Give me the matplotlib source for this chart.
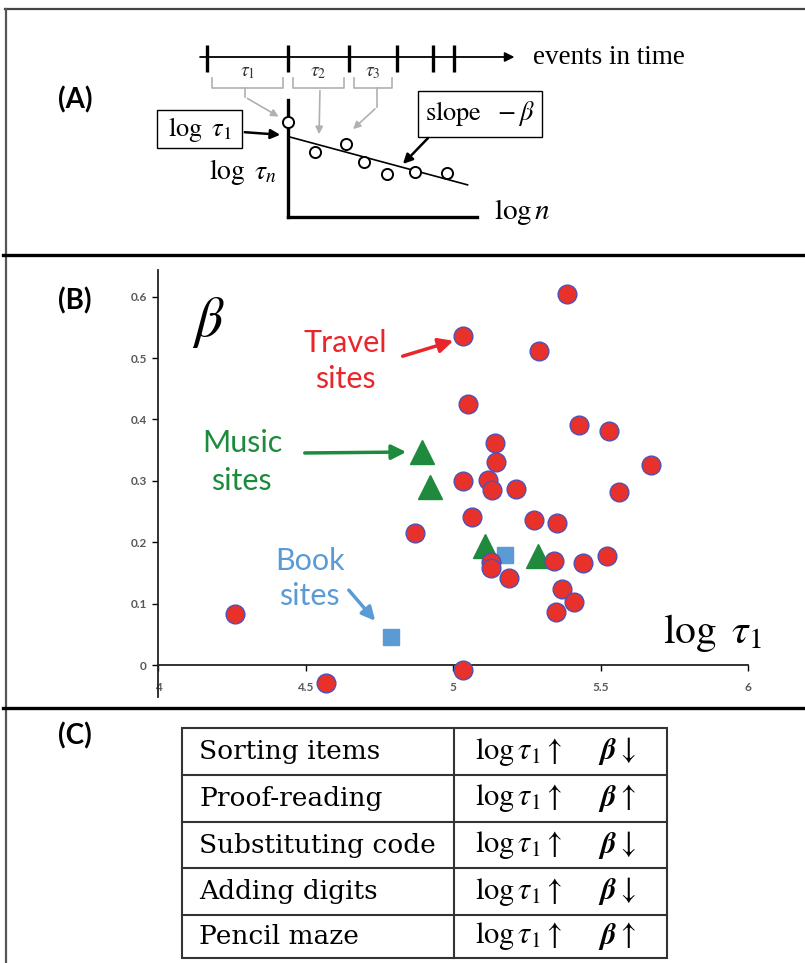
## Importing necessary libraries ##

import numpy as np
import matplotlib
matplotlib.use('Agg')
import matplotlib.pyplot as plt
from matplotlib.patches import Rectangle

plt.rcParams['mathtext.fontset'] = 'stix'

W, H = 805, 963

## Panel (A) : schematic of the inter-event times ##

event_times = [0.0, 1.0, 1.75, 2.35, 2.79, 3.05]
log_n = [0.0, 0.143, 0.307, 0.402, 0.524, 0.672, 0.841]
log_tau_n = [0.81, 0.556, 0.624, 0.47, 0.368, 0.385, 0.376]
fit_intercept, fit_slope = 0.688, -0.435

## Panel (B) : beta vs log tau_1 for the web sites ##

travel_x = [4.261, 4.569, 5.034, 5.386, 5.292, 5.051, 5.427, 5.529, 5.142, 5.146,
            5.671, 5.034, 5.119, 5.132, 5.214, 5.563, 5.064, 4.871, 5.275, 5.353,
            5.129, 5.129, 5.19, 5.342, 5.441, 5.522, 5.369, 5.41, 5.349, 5.034]
travel_y = [0.083, -0.029, 0.536, 0.604, 0.511, 0.425, 0.391, 0.381, 0.362, 0.331,
            0.325, 0.299, 0.302, 0.285, 0.286, 0.281, 0.241, 0.215, 0.236, 0.231,
            0.168, 0.158, 0.142, 0.170, 0.166, 0.178, 0.123, 0.103, 0.086, -0.008]
music_x = [4.895, 4.922, 5.108, 5.288]
music_y = [0.347, 0.290, 0.194, 0.178]
book_x = [4.79, 5.176]
book_y = [0.046, 0.179]

x_ticks = [4, 4.5, 5, 5.5, 6]
x_labels = ['4', '4.5', '5', '5.5', '6']
y_ticks = [0, 0.1, 0.2, 0.3, 0.4, 0.5, 0.6]
y_labels = ['0', '0.1', '0.2', '0.3', '0.4', '0.5', '0.6']

## Panel (C) : summary table ##

tasks = ['Sorting items', 'Proof-reading', 'Substituting code', 'Adding digits', 'Pencil maze']
beta_dirs = ['↓', '↑', '↓', '↓', '↑']


def box(x0, y0, x1, y1):
    '''
    Pixel box -> figure fraction rectangle.
    '''
    return [x0 / W, 1 - y1 / H, (x1 - x0) / W, (y1 - y0) / H]


fig = plt.figure(figsize=(W / 100, H / 100), dpi=100)

## overlay in pixel coordinates for frames, labels and arrows ##

ov = fig.add_axes([0, 0, 1, 1])
ov.set_xlim(0, W)
ov.set_ylim(H, 0)
ov.axis('off')

ov.plot([5, W], [9, 9], color='#444444', lw=1.6)
ov.plot([6, 6], [9, H], color='#555555', lw=1.6)
ov.plot([3, W], [255, 255], color='black', lw=2.4)
ov.plot([3, W], [708, 708], color='black', lw=2.4)

for lab, yy in [('(A)', 100), ('(B)', 301), ('(C)', 736)]:
    ov.text(75, yy, lab, fontsize=20, fontweight='bold', family='Lato',
            ha='center', va='center')

## timeline ##

tl = fig.add_axes(box(190, 35, 530, 100))
tl.set_facecolor('none')
tl.axis('off')
tl.set_xlim((190 - 207) / 81, (530 - 207) / 81)
tl.set_ylim(57 - 100, 57 - 35)
tl.annotate('', xy=(event_times[-1] + 0.78, 0), xytext=(event_times[0] - 0.12, 0),
            arrowprops=dict(arrowstyle='-|>', color='black', lw=1.3, mutation_scale=14))
tl.vlines(event_times, -15, 12, color='black', lw=2.4)
for i in range(3):
    a, b = event_times[i], event_times[i + 1]
    mid = (a + b) / 2
    tl.text(mid, -15, r'$\tau_{%d}$' % (i + 1), ha='center', va='center',
            fontsize=14, color='#333333')
    tl.plot([a + 0.06, a + 0.06, b - 0.06, b - 0.06], [-21, -31, -31, -21],
            color='#b0b0b0', lw=1.2)

## gray arrows from brackets to points ##

gray = dict(arrowstyle='-|>', color='#b0b0b0', lw=1.2, mutation_scale=11)
ov.plot([245, 245], [88, 97], color='#b0b0b0', lw=1.2)
ov.annotate('', xy=(281, 118), xytext=(245, 97), arrowprops=gray)
ov.annotate('', xy=(319, 137), xytext=(320, 88), arrowprops=gray)
ov.plot([377, 377], [88, 107], color='#b0b0b0', lw=1.2)
ov.annotate('', xy=(351, 131), xytext=(377, 107), arrowprops=gray)

## small log-log plot ##

mp = fig.add_axes(box(288, 100, 477, 217))
mp.set_facecolor('none')
mp.set_xlim(0, 1)
mp.set_ylim(0, 1)
for s in ['top', 'right']:
    mp.spines[s].set_visible(False)
for s in ['left', 'bottom']:
    mp.spines[s].set_linewidth(2.4)
mp.set_xticks([])
mp.set_yticks([])
xs = np.array([0.01, 0.95])
mp.plot(xs, fit_intercept + fit_slope * xs, color='black', lw=1.2)
mp.plot(log_n, log_tau_n, 'o', mfc='white', mec='black', ms=8, mew=1.4,
        clip_on=False, zorder=5)

ov.add_patch(Rectangle((157, 110), 85, 38, fc='white', ec='black', lw=1.0, zorder=3))
ov.text(200, 129, r'$\log\ \tau_1$', fontsize=19, ha='center', va='center', zorder=4)
ov.annotate('', xy=(283, 135), xytext=(242, 132),
            arrowprops=dict(arrowstyle='-|>', color='black', lw=1.8, mutation_scale=14))
ov.add_patch(Rectangle((418, 91), 124, 46, fc='white', ec='black', lw=1.0, zorder=3))
ov.text(480, 114, r'$\mathrm{slope}\ \ -\beta$', fontsize=19, ha='center', va='center', zorder=4)
ov.annotate('', xy=(401, 166), xytext=(430, 136),
            arrowprops=dict(arrowstyle='-|>', color='black', lw=1.8, mutation_scale=14))
ov.text(243, 172, r'$\log\ \tau_n$', fontsize=20, ha='center', va='center')
ov.text(522, 212, r'$\log n$', fontsize=21, ha='center', va='center')
ov.text(533, 57, 'events in time', fontsize=19.5, family='Liberation Serif',
        ha='left', va='center')

## Panel (B) scatter ##

sc = fig.add_axes(box(158, 270, 748, 697))
sc.set_facecolor('none')
sc.set_xlim(4, 6)
sc.set_ylim((665 - 697) / 614, (665 - 270) / 614)
sc.spines['top'].set_visible(False)
sc.spines['right'].set_visible(False)
sc.spines['bottom'].set_position(('data', 0))
for s in ['left', 'bottom']:
    sc.spines[s].set_linewidth(1.3)
    sc.spines[s].set_color('#222222')
sc.set_xticks(x_ticks)
sc.set_xticklabels(x_labels)
sc.set_yticks(y_ticks)
sc.set_yticklabels(y_labels)
sc.tick_params(axis='x', direction='out', length=4, width=1, pad=8,
               labelsize=8.5, labelcolor='#595959')
sc.tick_params(axis='y', direction='out', length=4, width=1, pad=4,
               labelsize=8.5, labelcolor='#595959')
for t in sc.get_xticklabels() + sc.get_yticklabels():
    t.set_fontweight('bold')
    t.set_family('Lato')

sc.plot(music_x, music_y, '^', ms=17, color='#1f8a3e', ls='none', zorder=3, clip_on=False)
sc.plot(book_x, book_y, 's', ms=11, color='#5b9bd5', ls='none', zorder=3, clip_on=False)
sc.plot(travel_x, travel_y, 'o', ms=13.5, mfc='#e8312a', mec='#5050b8', mew=1.0,
        ls='none', zorder=4, clip_on=False)

ov.text(208, 323, r'$\beta$', fontsize=40, ha='center', va='center')
ov.text(712, 633, r'$\log\ \tau_1$', fontsize=30, ha='center', va='center')

red, green, blue = '#e8262b', '#1c8c3c', '#5b9bd5'
for word, xx, yy, col in [('Travel', 345, 352, red), ('sites', 345, 388, red),
                          ('Music', 242, 452, green), ('sites', 241, 490, green),
                          ('Book', 310, 570, blue), ('sites', 309, 605, blue)]:
    ov.text(xx, yy, word, fontsize=22, family='Lato', color=col,
            ha='center', va='baseline')

ov.annotate('', xy=(456, 340), xytext=(400, 357),
            arrowprops=dict(arrowstyle='-|>', color=red, lw=2.5, mutation_scale=22))
ov.annotate('', xy=(409, 452), xytext=(302, 453),
            arrowprops=dict(arrowstyle='-|>', color=green, lw=2.5, mutation_scale=22))
ov.annotate('', xy=(377, 623), xytext=(347, 588),
            arrowprops=dict(arrowstyle='-|>', color=blue, lw=2.5, mutation_scale=20))

## Panel (C) table ##

row_edges = [728, 775, 822, 868, 915, 958]
tc = '#333333'
ov.add_patch(Rectangle((182, 728), 667 - 182, 958 - 728, fill=False, ec=tc, lw=1.5))
ov.plot([454, 454], [728, 958], color=tc, lw=1.5)
for yy in row_edges[1:-1]:
    ov.plot([182, 667], [yy, yy], color=tc, lw=1.5)

for i, task in enumerate(tasks):
    yc = (row_edges[i] + row_edges[i + 1]) / 2
    ov.text(199, yc, task, fontsize=19, family='DejaVu Serif', ha='left', va='center')
    ov.text(475, yc, r'$\log\tau_1\uparrow$', fontsize=22, ha='left', va='center')
    ov.text(600, yc, 'β', fontsize=22, family='STIXGeneral', style='italic',
            fontweight='bold', ha='left', va='center')
    ov.text(620, yc, beta_dirs[i], fontsize=22, family='STIXGeneral', ha='left', va='center')

fig.savefig('out.png', dpi=100)
